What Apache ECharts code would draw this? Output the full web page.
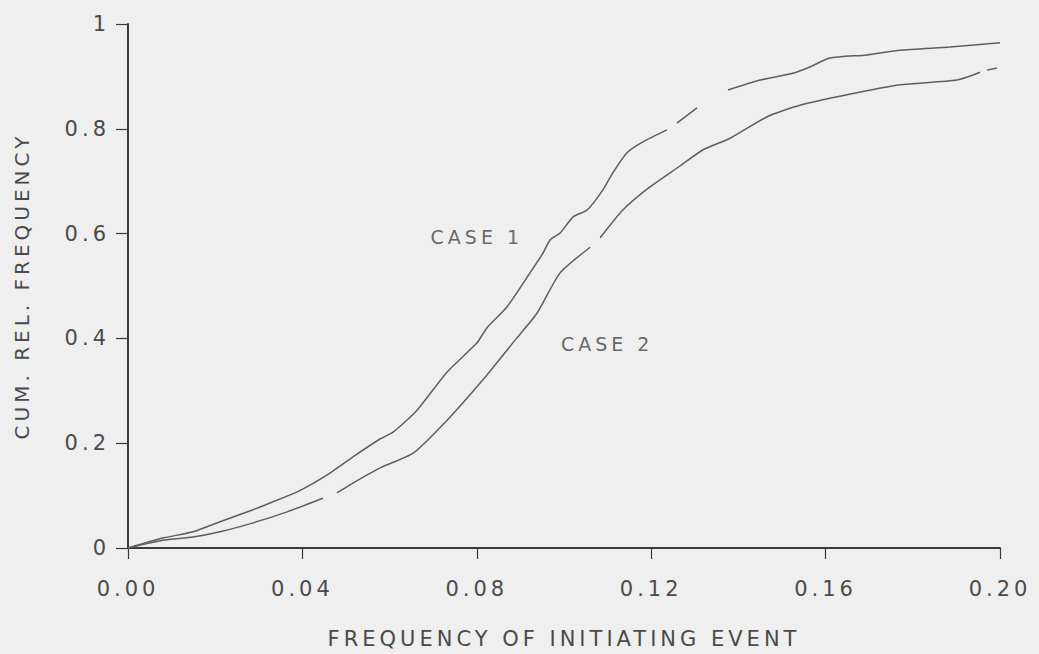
<!DOCTYPE html>
<html>
<head>
<meta charset="utf-8">
<script src="https://cdn.jsdelivr.net/npm/echarts@6/dist/echarts.min.js"></script>
<style>
  html, body { margin: 0; padding: 0; background: #efefef; }
  #chart { width: 1039px; height: 654px; }
  #chart text { letter-spacing: 4px; }
</style>
</head>
<body>
<div id="chart"></div>
<script>
// x tick labels and y tick labels
const xTicks = ['0.00', '0.04', '0.08', '0.12', '0.16', '0.20'];
const yTicks = ['0', '0.2', '0.4', '0.6', '0.8', '1'];

// CASE 1 (null = gap in the scanned trace)
const case1X = [0, 0.008, 0.0149, 0.0211, 0.0287, 0.0326, 0.0388, 0.0456, 0.0516, 0.0578, 0.0608, 0.0663, 0.0732, 0.0800, 0.0823, 0.0869, 0.0922, 0.0952, 0.0968, 0.0991, 0.1021, 0.1053, 0.1089, 0.1112, 0.1144, 0.1181, 0.1236, 0.1248, 0.1259, 0.1305, 0.134, 0.1376, 0.1450, 0.1525, 0.1564, 0.1610, 0.1695, 0.1771, 0.1885, 0.2000];
const case1Y = [0, 0.019, 0.031, 0.050, 0.073, 0.086, 0.107, 0.139, 0.174, 0.208, 0.221, 0.263, 0.336, 0.391, 0.420, 0.460, 0.525, 0.563, 0.588, 0.601, 0.632, 0.645, 0.683, 0.716, 0.754, 0.775, 0.798, null, 0.811, 0.840, null, 0.874, 0.893, 0.906, 0.918, 0.935, 0.941, 0.950, 0.956, 0.964];

// CASE 2
const case2X = [0, 0.008, 0.0149, 0.0211, 0.0287, 0.0365, 0.0447, 0.0463, 0.0479, 0.0516, 0.0578, 0.0654, 0.0732, 0.0814, 0.0892, 0.0938, 0.0991, 0.1060, 0.1071, 0.1083, 0.1135, 0.1197, 0.1266, 0.1319, 0.1381, 0.1466, 0.1541, 0.1649, 0.1771, 0.1901, 0.1954, 0.1962, 0.1970, 0.1993];
const case2Y = [0, 0.015, 0.021, 0.031, 0.048, 0.069, 0.095, null, 0.105, 0.124, 0.153, 0.181, 0.244, 0.321, 0.401, 0.448, 0.525, 0.574, null, 0.592, 0.645, 0.689, 0.729, 0.760, 0.782, 0.823, 0.845, 0.865, 0.884, 0.893, 0.908, null, 0.912, 0.916];

// curve annotations: [x, y, text]
const caseLabels = [[0.0800, 0.594, 'CASE 1'], [0.1099, 0.389, 'CASE 2']];

const pair = (xs, ys) => xs.map((x, i) => [x, ys[i] === null ? '-' : ys[i]]);

const textColor = '#4a4a4a';
const fontFamily = '"DejaVu Sans", sans-serif';

const chart = echarts.init(document.getElementById('chart'), null, { renderer: 'svg' });
chart.setOption({
  backgroundColor: '#efefef',
  animation: false,
  grid: { left: 128, right: 39, top: 24, bottom: 105, containLabel: false },
  xAxis: {
    type: 'value', min: 0, max: 0.2, interval: 0.04,
    name: 'FREQUENCY OF INITIATING EVENT', nameLocation: 'middle', nameGap: 80,
    nameTextStyle: { color: textColor, fontSize: 21, fontFamily },
    axisLine: { show: true, onZero: false, lineStyle: { color: '#3a3a3a', width: 2 } },
    axisTick: { show: true, inside: false, length: 11, lineStyle: { color: '#3a3a3a', width: 1.2 } },
    splitLine: { show: false },
    axisLabel: {
      color: textColor, fontSize: 21, fontFamily, margin: 30,
      formatter: v => xTicks[Math.round(v / 0.04)]
    }
  },
  yAxis: {
    type: 'value', min: 0, max: 1, interval: 0.2,
    name: 'CUM. REL. FREQUENCY', nameLocation: 'middle', nameGap: 96, nameRotate: 90,
    nameTextStyle: { color: textColor, fontSize: 20, fontFamily },
    axisLine: { show: true, lineStyle: { color: '#3a3a3a', width: 2 } },
    axisTick: { show: true, inside: false, length: 12, lineStyle: { color: '#3a3a3a', width: 1.2 } },
    splitLine: { show: false },
    axisLabel: {
      color: textColor, fontSize: 21, fontFamily, margin: 18,
      formatter: v => yTicks[Math.round(v / 0.2)]
    }
  },
  series: [
    {
      name: 'CASE 1', type: 'line', data: pair(case1X, case1Y),
      showSymbol: false, connectNulls: false, smooth: 0.2,
      lineStyle: { color: '#5e5e5e', width: 1.5 }
    },
    {
      name: 'CASE 2', type: 'line', data: pair(case2X, case2Y),
      showSymbol: false, connectNulls: false, smooth: 0.2,
      lineStyle: { color: '#5e5e5e', width: 1.5 }
    },
    {
      type: 'scatter', data: caseLabels, symbolSize: 0, silent: true,
      label: {
        show: true, position: 'inside', color: '#444', fontSize: 19, fontFamily,
        formatter: p => p.data[2]
      }
    }
  ]
});
</script>
</body>
</html>
